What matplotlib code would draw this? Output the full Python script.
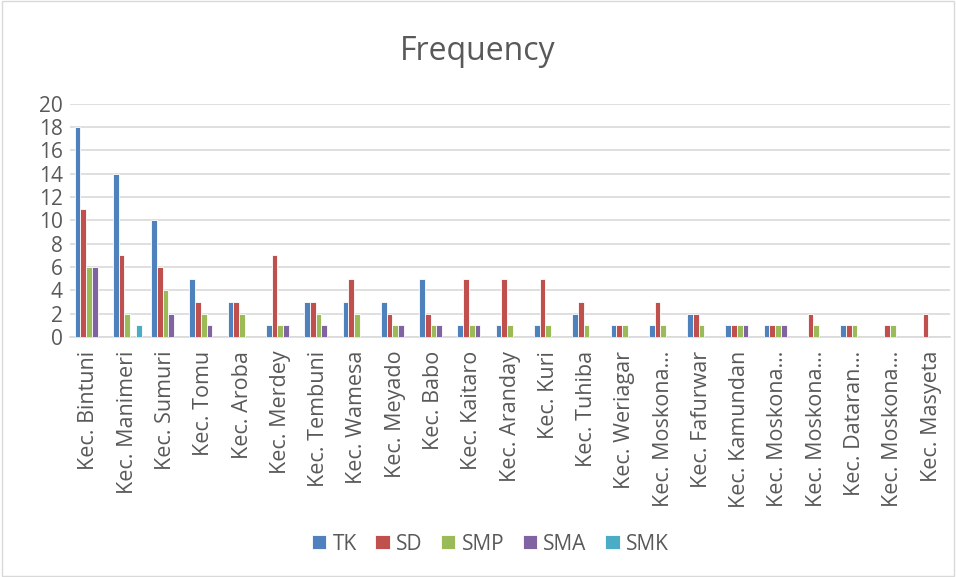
import matplotlib
matplotlib.use("Agg")
import matplotlib.pyplot as plt
import numpy as np
from matplotlib.patches import Rectangle

plt.rcParams['font.family'] = ['Open Sans', 'DejaVu Sans']

categories = ["Kec. Bintuni", "Kec. Manimeri", "Kec. Sumuri", "Kec. Tomu", "Kec. Aroba",
              "Kec. Merdey", "Kec. Tembuni", "Kec. Wamesa", "Kec. Meyado", "Kec. Babo",
              "Kec. Kaitaro", "Kec. Aranday", "Kec. Kuri", "Kec. Tuhiba", "Kec. Weriagar",
              "Kec. Moskona…", "Kec. Fafurwar", "Kec. Kamundan", "Kec. Moskona…",
              "Kec. Moskona…", "Kec. Dataran…", "Kec. Moskona…", "Kec. Masyeta"]
series_names = ["TK", "SD", "SMP", "SMA", "SMK"]
tk  = [18, 14, 10, 5, 3, 1, 3, 3, 3, 5, 1, 1, 1, 2, 1, 1, 2, 1, 1, 0, 1, 0, 0]
sd  = [11, 7, 6, 3, 3, 7, 3, 5, 2, 2, 5, 5, 5, 3, 1, 3, 2, 1, 1, 2, 1, 1, 2]
smp = [6, 2, 4, 2, 2, 1, 2, 2, 1, 1, 1, 1, 1, 1, 1, 1, 1, 1, 1, 1, 1, 1, 0]
sma = [6, 0, 2, 1, 0, 1, 1, 0, 1, 1, 1, 0, 0, 0, 0, 0, 0, 1, 1, 0, 0, 0, 0]
smk = [0, 1, 0, 0, 0, 0, 0, 0, 0, 0, 0, 0, 0, 0, 0, 0, 0, 0, 0, 0, 0, 0, 0]
colors = ["#4F81BD", "#C0504D", "#9BBB59", "#8064A2", "#4BACC6"]

data = [tk, sd, smp, sma, smk]
text_color = "#595959"

fig = plt.figure(figsize=(9.56, 5.77), dpi=100)
fig.patches.append(Rectangle((0.002, 0.002), 0.996, 0.996, transform=fig.transFigure,
                             fill=False, edgecolor="#D9D9D9", linewidth=1))
ax = fig.add_axes([0.073, 0.416, 0.921, 0.404])

x = np.arange(len(categories))
n = len(series_names)
bw = 0.15
for i, (name, vals, c) in enumerate(zip(series_names, data, colors)):
    ax.bar(x + (i - (n - 1) / 2) * bw, vals, width=bw, color=c, label=name,
           edgecolor="white", linewidth=0.6, zorder=3)

ax.set_xlim(-0.5, len(categories) - 0.5)
ax.set_ylim(0, 20)
ax.set_yticks(range(0, 21, 2))
ax.yaxis.grid(True, color="#D9D9D9", linewidth=1.2, zorder=0)
ax.set_xticks(x)
ax.set_xticklabels(categories, rotation=90, fontsize=15.5, color=text_color)
ax.tick_params(axis="y", labelsize=15, labelcolor=text_color, length=0, pad=5)
ax.tick_params(axis="x", length=0, pad=10)
for s in ["top", "right", "left"]:
    ax.spines[s].set_visible(False)
ax.spines["bottom"].set_color("#D9D9D9")
ax.spines["bottom"].set_linewidth(1.2)

fig.suptitle("Frequency", y=0.94, fontsize=23, color=text_color)
leg = fig.legend(loc="center", bbox_to_anchor=(0.513, 0.057), ncol=5, frameon=False,
                 fontsize=15, handlelength=0.68, handleheight=0.68, columnspacing=0.9,
                 handletextpad=0.3, borderpad=0)
for t in leg.get_texts():
    t.set_color(text_color)

fig.savefig("out.png", dpi=100)
